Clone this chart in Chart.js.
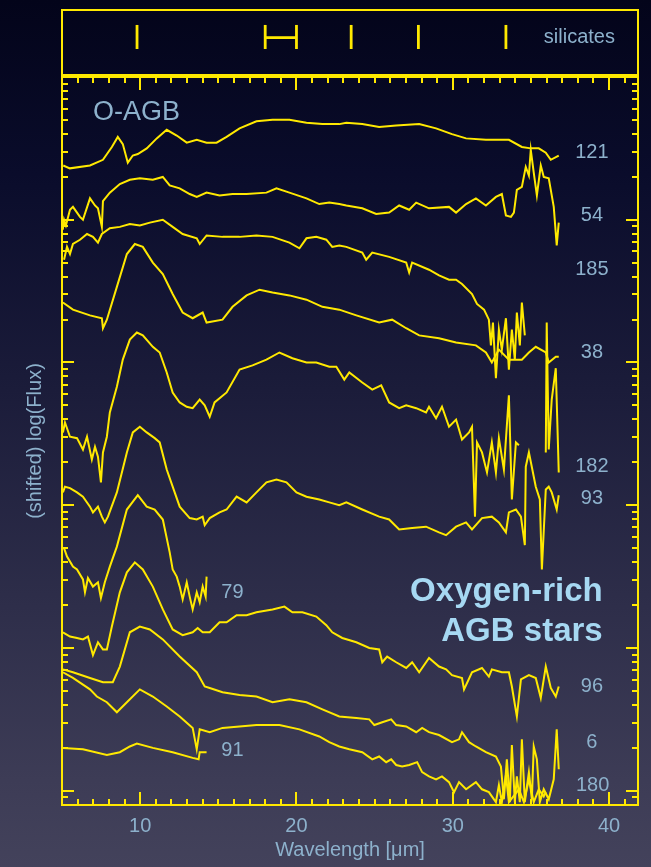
<!DOCTYPE html>
<html>
<head>
<meta charset="utf-8">
<script src="https://cdn.jsdelivr.net/npm/chart.js@4.4.0/dist/chart.umd.min.js"></script>
<style>
  html, body { margin: 0; padding: 0; }
  body {
    width: 651px; height: 867px; overflow: hidden; position: relative;
    background: linear-gradient(180deg, #03041a 0%, #0a0c2b 20%, #1b1c3a 45%, #2e2e4a 70%, #3d3c56 90%, #43425b 100%);
  }
  canvas { position: absolute; left: 0; top: 0; }
</style>
</head>
<body>
<canvas id="main" width="651" height="867"></canvas>
<canvas id="top" width="651" height="80"></canvas>
<script>
// wavelength [um], (shifted) log flux
var spec121 = [[5.08,4.38],[5.5,4.36],[6.79,4.38],[7.62,4.42],[8.19,4.51],[8.57,4.58],[8.89,4.53],[9.21,4.40],[9.53,4.45],[9.85,4.46],[10.42,4.50],[11.06,4.57],[11.70,4.63],[12.34,4.59],[12.98,4.54],[13.62,4.56],[14.25,4.54],[14.89,4.54],[15.53,4.58],[16.36,4.64],[17.44,4.69],[18.47,4.70],[19.55,4.70],[20.64,4.68],[21.66,4.67],[22.74,4.67],[23.19,4.68],[24.21,4.67],[25.29,4.65],[26.38,4.66],[27.85,4.67],[28.93,4.64],[29.95,4.60],[30.85,4.57],[32.12,4.56],[33.59,4.56],[34.42,4.51],[34.99,4.50],[35.50,4.50],[35.95,4.47],[36.27,4.42],[36.78,4.45]];
var spec54 = [[5.05,3.93],[5.13,4.00],[5.25,3.96],[5.51,4.07],[5.70,4.09],[6.15,4.02],[6.34,4.00],[6.79,4.15],[7.11,4.10],[7.30,4.08],[7.55,3.95],[7.62,4.13],[8.06,4.19],[8.70,4.25],[9.34,4.28],[9.98,4.29],[10.81,4.28],[11.45,4.30],[11.89,4.24],[12.53,4.22],[13.17,4.18],[13.62,4.16],[14.25,4.19],[15.08,4.17],[15.91,4.18],[16.81,4.18],[18.08,4.19],[18.72,4.22],[19.55,4.19],[20.64,4.15],[21.46,4.11],[22.10,4.12],[22.74,4.11],[23.19,4.10],[24.21,4.08],[25.10,4.04],[25.93,4.05],[26.57,4.10],[27.21,4.07],[27.66,4.12],[28.48,4.08],[29.76,4.09],[30.21,4.05],[30.85,4.11],[31.48,4.15],[32.12,4.10],[32.76,4.16],[33.14,4.18],[33.40,4.03],[33.72,4.02],[33.91,4.05],[34.10,4.21],[34.42,4.23],[34.67,4.37],[34.87,4.31],[34.99,4.49],[35.18,4.33],[35.38,4.17],[35.63,4.38],[35.82,4.30],[36.14,4.29],[36.46,4.09],[36.65,3.82],[36.78,3.98]];
var spec185 = [[5.13,3.72],[5.32,3.81],[5.51,3.76],[5.70,3.83],[6.15,3.86],[6.60,3.90],[6.98,3.88],[7.30,3.84],[7.55,3.90],[8.06,3.94],[8.70,3.95],[9.34,3.97],[9.98,3.96],[10.62,3.98],[11.45,4.00],[12.08,3.95],[12.72,3.90],[13.62,3.87],[13.81,3.83],[14.25,3.89],[15.27,3.88],[16.36,3.88],[17.44,3.89],[18.47,3.88],[19.55,3.84],[20.19,3.80],[20.64,3.87],[21.27,3.88],[21.91,3.86],[22.29,3.81],[22.74,3.82],[23.19,3.81],[24.21,3.77],[24.46,3.72],[24.85,3.77],[25.93,3.74],[27.02,3.70],[27.21,3.63],[27.40,3.70],[28.48,3.65],[29.12,3.61],[29.76,3.58],[30.21,3.58],[30.59,3.55],[31.23,3.48],[31.55,3.41],[32.0,3.37],[32.31,3.30],[32.44,3.12],[32.57,3.28],[32.76,2.89],[32.95,3.23],[33.14,3.09],[33.40,3.31],[33.59,2.95],[33.78,3.23],[33.97,3.02],[34.10,3.35],[34.29,3.12],[34.42,3.42],[34.61,3.19]];
var spec38 = [[5.06,3.42],[5.70,3.37],[6.79,3.33],[7.55,3.31],[7.62,3.24],[7.87,3.30],[8.51,3.53],[9.15,3.76],[9.66,3.83],[10.17,3.81],[10.81,3.70],[11.45,3.62],[12.08,3.48],[12.72,3.35],[13.36,3.31],[14.0,3.35],[14.25,3.28],[15.27,3.30],[15.91,3.39],[16.81,3.47],[17.64,3.51],[18.47,3.49],[19.55,3.47],[20.64,3.44],[21.66,3.39],[22.74,3.37],[23.83,3.33],[25.29,3.28],[26.12,3.30],[27.02,3.24],[27.85,3.19],[29.12,3.17],[30.21,3.14],[31.48,3.12],[32.12,3.07],[32.50,3.0],[32.95,3.09],[33.59,3.02],[34.42,3.02],[34.87,3.07],[35.31,3.11],[35.95,3.07],[36.14,3.0],[36.59,3.04],[36.78,3.04]];
var spec182 = [[5.06,2.51],[5.19,2.58],[5.51,2.48],[5.96,2.47],[6.34,2.39],[6.60,2.48],[6.91,2.32],[7.11,2.41],[7.30,2.34],[7.49,2.16],[7.62,2.37],[7.87,2.48],[8.06,2.65],[8.51,2.83],[8.89,3.02],[9.34,3.16],[9.79,3.21],[10.17,3.19],[10.81,3.11],[11.25,3.07],[11.70,2.93],[12.08,2.79],[12.53,2.72],[12.98,2.69],[13.36,2.68],[13.81,2.74],[14.13,2.70],[14.45,2.62],[14.76,2.72],[15.53,2.79],[16.36,2.95],[17.19,2.98],[18.08,3.02],[18.91,3.07],[19.74,3.03],[20.64,3.0],[21.27,3.0],[22.10,2.97],[22.55,2.97],[23.06,2.88],[23.38,2.93],[24.21,2.86],[24.85,2.81],[25.42,2.84],[25.93,2.72],[26.57,2.68],[27.02,2.70],[27.66,2.68],[28.29,2.65],[28.48,2.69],[28.93,2.61],[29.31,2.69],[29.76,2.55],[30.21,2.60],[30.59,2.46],[31.04,2.51],[31.23,2.55],[31.42,1.92],[31.55,2.44],[31.87,2.37],[32.19,2.23],[32.50,2.44],[32.76,2.23],[32.95,2.47],[33.27,2.25],[33.59,2.77],[33.78,2.04],[34.04,2.44],[34.23,2.42],[34.8,null],[35.95,2.37],[36.01,3.28],[36.14,2.39],[36.33,2.74],[36.59,2.96],[36.78,2.23]];
var spec93 = [[5.06,2.09],[5.19,2.13],[5.51,2.12],[5.96,2.09],[6.34,2.06],[6.79,1.99],[6.98,1.95],[7.30,1.99],[7.55,1.92],[7.74,1.88],[7.94,1.92],[8.51,2.09],[9.15,2.37],[9.53,2.51],[9.98,2.55],[10.42,2.51],[10.93,2.47],[11.25,2.44],[11.70,2.25],[12.08,2.13],[12.53,1.99],[13.17,1.91],[13.62,1.90],[14.0,1.92],[14.13,1.86],[14.45,1.91],[15.08,1.95],[15.53,1.97],[16.17,2.06],[16.81,2.02],[17.44,2.09],[18.08,2.16],[18.72,2.18],[19.36,2.16],[20.0,2.09],[20.64,2.06],[21.46,2.04],[22.10,2.02],[22.74,2.0],[23.19,2.02],[24.21,1.97],[25.29,1.92],[25.93,1.90],[26.57,1.83],[27.40,1.84],[28.29,1.85],[29.12,1.81],[29.57,1.79],[30.21,1.85],[30.85,1.88],[31.23,1.83],[31.87,1.91],[32.50,1.92],[32.95,1.88],[33.40,1.81],[33.59,1.95],[34.04,1.97],[34.36,1.92],[34.61,1.72],[34.67,2.27],[34.87,2.37],[35.31,2.13],[35.57,2.04],[35.70,1.55],[35.95,2.11],[36.14,2.13],[36.33,2.09],[36.65,1.97],[36.78,2.07]];
var spec79 = [[5.13,1.70],[5.32,1.64],[5.70,1.57],[5.96,1.55],[6.34,1.48],[6.47,1.39],[6.66,1.49],[6.98,1.43],[7.30,1.46],[7.49,1.35],[7.74,1.46],[8.06,1.57],[8.51,1.71],[9.15,1.97],[9.85,2.07],[10.42,1.99],[10.93,1.97],[11.45,1.90],[11.89,1.67],[12.08,1.55],[12.34,1.50],[12.53,1.43],[12.72,1.34],[12.98,1.46],[13.17,1.36],[13.36,1.27],[13.62,1.39],[13.81,1.32],[14.0,1.43],[14.19,1.36],[14.25,1.50]];
var spec96 = [[5.06,1.11],[5.51,1.08],[5.96,1.07],[6.34,1.06],[6.66,1.08],[6.98,0.95],[7.30,1.04],[7.62,0.99],[7.87,0.99],[8.19,1.15],[8.70,1.39],[9.15,1.53],[9.66,1.60],[10.17,1.55],[10.81,1.43],[11.45,1.27],[12.08,1.13],[12.72,1.09],[13.36,1.11],[13.68,1.14],[14.0,1.11],[14.45,1.11],[15.08,1.18],[15.53,1.18],[16.17,1.23],[16.81,1.23],[17.44,1.25],[18.47,1.27],[19.23,1.29],[19.74,1.25],[20.38,1.25],[21.27,1.22],[21.91,1.16],[22.29,1.11],[22.93,1.07],[23.83,1.04],[24.66,1.0],[25.29,0.99],[25.49,0.90],[25.80,0.94],[26.38,0.90],[27.02,0.86],[27.40,0.90],[27.85,0.83],[28.48,0.93],[29.12,0.87],[29.57,0.85],[29.95,0.81],[30.59,0.79],[30.72,0.71],[31.23,0.83],[31.87,0.86],[32.31,0.80],[32.50,0.85],[33.14,0.83],[33.59,0.83],[33.78,0.73],[34.10,0.52],[34.36,0.78],[34.87,0.81],[35.31,0.79],[35.63,0.65],[35.82,0.78],[35.95,0.87],[36.27,0.72],[36.59,0.66],[36.78,0.73]];
var spec6 = [[5.06,0.85],[5.70,0.83],[6.79,0.79],[7.62,0.76],[8.25,0.76],[8.70,0.87],[9.34,1.11],[9.98,1.15],[10.62,1.13],[11.45,1.06],[12.53,0.94],[13.62,0.83],[14.13,0.73],[14.45,0.72],[15.27,0.69],[16.36,0.67],[17.44,0.66],[18.47,0.62],[19.55,0.64],[20.64,0.62],[21.66,0.57],[22.74,0.52],[23.83,0.51],[24.66,0.50],[24.98,0.46],[25.49,0.48],[26.06,0.50],[26.38,0.46],[27.02,0.45],[27.66,0.41],[28.04,0.44],[28.48,0.41],[29.12,0.39],[29.95,0.34],[30.40,0.36],[30.59,0.41],[31.04,0.34],[31.48,0.31],[32.12,0.27],[32.76,0.24],[33.08,0.17],[33.27,-0.06],[33.46,0.22],[33.65,-0.08],[33.78,0.32],[33.97,-0.08],[34.10,0.10],[34.29,-0.08],[34.42,0.36],[34.61,-0.08],[34.87,0.13],[35.06,-0.06],[35.18,0.31],[35.38,0.22],[35.57,-0.08],[35.82,0.01],[36.14,-0.06],[36.46,0.08],[36.65,0.43],[36.78,0.15]];
var spec180 = [[5.06,0.83],[5.70,0.79],[6.79,0.71],[7.23,0.66],[7.87,0.62],[8.51,0.55],[9.15,0.62],[9.98,0.71],[10.81,0.66],[11.70,0.59],[12.53,0.52],[13.36,0.44],[13.62,0.29],[13.81,0.43],[14.45,0.41],[15.27,0.44],[16.36,0.45],[17.44,0.46],[18.91,0.46],[20.19,0.43],[21.46,0.38],[22.10,0.34],[22.74,0.31],[23.38,0.29],[24.21,0.27],[24.85,0.22],[25.29,0.24],[25.74,0.20],[26.06,0.22],[26.38,0.18],[26.76,0.17],[27.21,0.18],[27.72,0.20],[28.04,0.13],[28.48,0.10],[28.93,0.08],[29.31,0.10],[29.76,0.06],[30.08,-0.01],[30.40,0.06],[30.85,0.01],[31.48,0.06],[31.87,0.01],[32.31,-0.01],[32.76,-0.08],[32.95,0.04],[33.14,-0.08],[33.40,0.11],[33.59,-0.08],[34.23,0.01],[34.55,-0.08],[34.87,0.08],[35.18,-0.08],[35.50,0.01],[35.82,-0.04],[35.95,-0.01]];
var spec91 = [[5.06,0.30],[6.34,0.29],[7.87,0.25],[8.70,0.27],[9.34,0.31],[9.79,0.33],[10.81,0.30],[12.08,0.27],[13.36,0.23],[13.74,0.22],[13.81,0.27],[14.25,0.27]];

var starNames = ['121', '54', '185', '38', '182', '93', '79', '96', '6', '180', '91'];
var starSpectra = [spec121, spec54, spec185, spec38, spec182, spec93, spec79, spec96, spec6, spec180, spec91];

// x axis tick labels and silicate feature wavelengths
var xTickValues = [10, 20, 30, 40];
var silicatePeaks = [9.8, 23.5, 27.8, 33.4];
var silicateBand = [18.0, 20.0];

// where each star number is written, in data units
var labelAt = {
  '121': [38.9, 4.47], '54': [38.9, 4.03], '185': [38.9, 3.65], '38': [38.9, 3.07],
  '182': [38.9, 2.27], '93': [38.9, 2.05], '79': [15.9, 1.39], '96': [38.9, 0.73],
  '6': [38.9, 0.34], '180': [38.95, 0.04], '91': [15.9, 0.28]
};

var YELLOW = '#ffe900';
var LABEL = '#8db1cc';
var FONT = "'Liberation Sans', Arial, Helvetica, sans-serif";

var mainFrame = {
  id: 'mainFrame',
  afterDatasetsDraw: function (chart) {
    var ctx = chart.ctx, a = chart.chartArea, xs = chart.scales.x, ys = chart.scales.y;
    ctx.save();
    ctx.strokeStyle = YELLOW;
    ctx.lineWidth = 2;
    ctx.strokeRect(a.left, a.top, a.right - a.left, a.bottom - a.top);
    ctx.beginPath();
    for (var w = 6; w <= 41; w++) {
      var px = Math.round(xs.getPixelForValue(w));
      var len = w % 10 === 0 ? 13 : 6;
      ctx.moveTo(px, a.bottom); ctx.lineTo(px, a.bottom - len);
      ctx.moveTo(px, a.top); ctx.lineTo(px, a.top + len);
    }
    for (var d = -1; d <= 4; d++) {
      for (var k = 1; k <= 9; k++) {
        var v = d + Math.log10(k);
        if (v <= ys.min || v >= ys.max) continue;
        var py = Math.round(ys.getPixelForValue(v));
        var l2 = k === 1 ? 12 : 6;
        ctx.moveTo(a.left, py); ctx.lineTo(a.left + l2, py);
        ctx.moveTo(a.right, py); ctx.lineTo(a.right - l2, py);
      }
    }
    ctx.stroke();

    ctx.fillStyle = LABEL;
    ctx.textBaseline = 'middle';
    ctx.textAlign = 'center';
    ctx.font = '20px ' + FONT;
    starNames.forEach(function (n) {
      var p = labelAt[n];
      ctx.fillText(n, xs.getPixelForValue(p[0]), ys.getPixelForValue(p[1]));
    });
    ctx.textAlign = 'left';
    ctx.font = '27px ' + FONT;
    ctx.fillText('O-AGB', xs.getPixelForValue(6.98), ys.getPixelForValue(4.75));
    ctx.textAlign = 'right';
    ctx.fillStyle = '#a6d8f2';
    ctx.font = 'bold 33px ' + FONT;
    ctx.fillText('Oxygen-rich', xs.getPixelForValue(39.59), ys.getPixelForValue(1.39));
    ctx.fillText('AGB stars', xs.getPixelForValue(39.59), ys.getPixelForValue(1.11));
    ctx.restore();
  }
};

new Chart(document.getElementById('main'), {
  type: 'line',
  data: {
    datasets: starSpectra.map(function (s, i) {
      return {
        label: starNames[i],
        data: s.map(function (p) { return { x: p[0], y: p[1] }; }),
        borderColor: YELLOW,
        borderWidth: 2,
        pointRadius: 0,
        tension: 0,
        fill: false,
        spanGaps: false
      };
    })
  },
  options: {
    responsive: false,
    animation: false,
    events: [],
    layout: { padding: { top: 77, right: 13, left: 0, bottom: 0 } },
    plugins: { legend: { display: false }, tooltip: { enabled: false } },
    scales: {
      x: {
        type: 'linear', min: 5, max: 41.85,
        grid: { display: false, drawTicks: false },
        border: { display: false },
        afterBuildTicks: function (s) { s.ticks = xTickValues.map(function (v) { return { value: v }; }); },
        afterFit: function (s) { s.height = 62; },
        ticks: { color: LABEL, font: { size: 20, family: FONT }, padding: 9, maxRotation: 0 },
        title: { display: true, text: 'Wavelength [μm]', color: LABEL, font: { size: 20, family: FONT }, padding: { top: 0, bottom: 5 } }
      },
      y: {
        type: 'linear', min: -0.1, max: 5,
        grid: { display: false, drawTicks: false },
        border: { display: false },
        ticks: { display: false },
        afterFit: function (s) { s.width = 62; },
        title: { display: true, text: '(shifted) log(Flux)', color: LABEL, font: { size: 20, family: FONT }, padding: { top: 23 } }
      }
    }
  },
  plugins: [mainFrame]
});

var topFrame = {
  id: 'topFrame',
  afterDatasetsDraw: function (chart) {
    var ctx = chart.ctx, a = chart.chartArea, xs = chart.scales.x, ys = chart.scales.y;
    ctx.save();
    ctx.strokeStyle = YELLOW;
    ctx.lineWidth = 2;
    ctx.strokeRect(a.left, a.top, a.right - a.left, a.bottom - a.top);
    ctx.fillStyle = LABEL;
    ctx.font = '20px ' + FONT;
    ctx.textAlign = 'center';
    ctx.textBaseline = 'middle';
    ctx.fillText('silicates', xs.getPixelForValue(38.1), ys.getPixelForValue(0.58));
    ctx.restore();
  }
};

var markLo = 0.40, markHi = 0.77, bandMid = 0.575;
var topSets = silicatePeaks.concat(silicateBand).map(function (w) {
  return { data: [{ x: w, y: markLo }, { x: w, y: markHi }] };
});
topSets.push({ data: [{ x: silicateBand[0], y: bandMid }, { x: silicateBand[1], y: bandMid }] });
topSets.forEach(function (d) {
  d.borderColor = YELLOW; d.borderWidth = 2.8; d.pointRadius = 0; d.fill = false;
});

new Chart(document.getElementById('top'), {
  type: 'line',
  data: { datasets: topSets },
  options: {
    responsive: false,
    animation: false,
    events: [],
    layout: { padding: { top: 10, right: 13, bottom: 5, left: 62 } },
    plugins: { legend: { display: false }, tooltip: { enabled: false } },
    scales: {
      x: { type: 'linear', min: 5, max: 41.85, display: false },
      y: { type: 'linear', min: 0, max: 1, display: false }
    }
  },
  plugins: [topFrame]
});
</script>
</body>
</html>
